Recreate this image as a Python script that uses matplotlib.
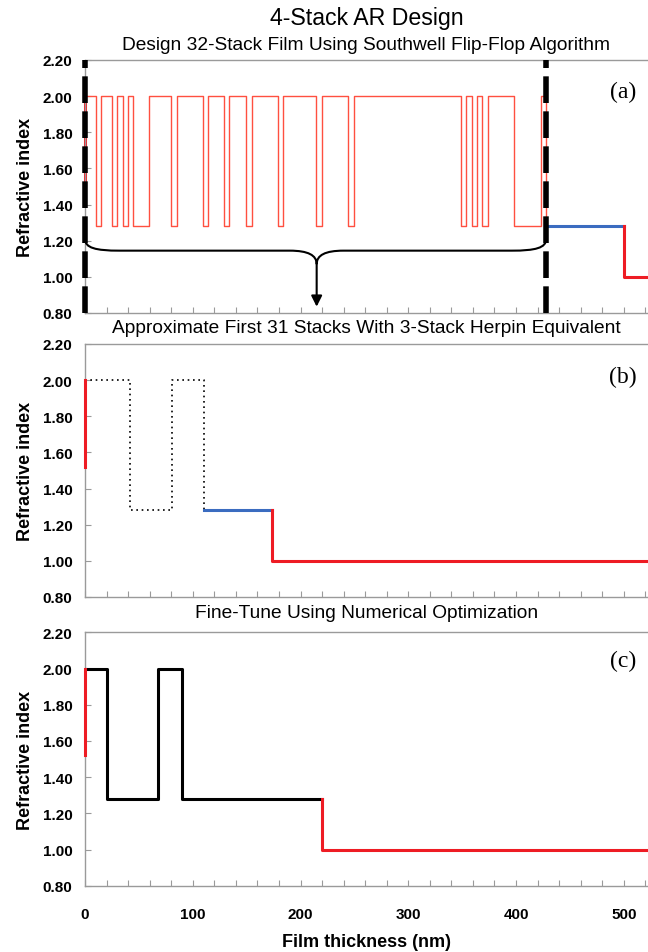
import matplotlib
matplotlib.use("Agg")
import matplotlib.pyplot as plt
from matplotlib.path import Path
from matplotlib.patches import PathPatch
from matplotlib.ticker import MultipleLocator, FormatStrFormatter

plt.rcParams['font.family'] = ['Liberation Sans', 'DejaVu Sans']

# ---------------- data ----------------
substrate_index = 1.52
air_index = 1.00
x_max = 522.5

# (a) 31 thin layers from the flip-flop design (boundaries in nm)
a_bounds = [0, 10.2, 14.8, 24.7, 30.0, 35.0, 39.6, 44.2, 59.4, 79.5, 85.1,
            109.8, 114.4, 129.3, 133.9, 149.1, 154.7, 179.4, 184.1, 214.4,
            219.7, 244.4, 249.4, 348.6, 353.6, 358.8, 363.5, 368.8, 374.3,
            398.4, 423.2, 428.0]
a_index = [2.00, 1.28, 2.00, 1.28, 2.00, 1.28, 2.00, 1.28, 2.00, 1.28,
           2.00, 1.28, 2.00, 1.28, 2.00, 1.28, 2.00, 1.28, 2.00, 1.28,
           2.00, 1.28, 2.00, 1.28, 2.00, 1.28, 2.00, 1.28, 2.00, 1.28,
           2.00]
# 32nd stack
a_last_start = 428.0
a_last_end = 500.0
a_last_index = 1.28

# (b) 3-stack Herpin equivalent + last stack
b_bounds = [0, 42, 81, 110]
b_index = [2.00, 1.28, 2.00]
b_last_start = 110
b_last_end = 174
b_last_index = 1.28

# (c) fine-tuned design
c_bounds = [0, 20, 68, 90, 220]
c_index = [2.00, 1.28, 2.00, 1.28]

# brace in (a)
brace_left = 0
brace_right = 428
brace_mid = 215

yticks = [0.80, 1.00, 1.20, 1.40, 1.60, 1.80, 2.00, 2.20]

RED = '#ee1c24'
THIN_RED = '#ff5040'
BLUE = '#3b6cc0'
SPINE = '#9a9a9a'

W, H = 648, 953
fig = plt.figure(figsize=(W / 100, H / 100), dpi=100)

left = 85 / W
width = 1 - left
def pos(top_px, bot_px):
    return [left, 1 - bot_px / H, width, (bot_px - top_px) / H]

ax_a = fig.add_axes(pos(61, 314))
ax_b = fig.add_axes(pos(345, 598))
ax_c = fig.add_axes(pos(633.3, 886.7))

for ax in (ax_a, ax_b, ax_c):
    ax.set_xlim(0, x_max)
    ax.set_ylim(0.80, 2.20)
    ax.set_yticks(yticks)
    ax.yaxis.set_major_formatter(FormatStrFormatter('%.2f'))
    ax.xaxis.set_major_locator(MultipleLocator(100))
    ax.xaxis.set_minor_locator(MultipleLocator(20))
    ax.tick_params(axis='y', direction='in', length=4, width=0.8, color=SPINE,
                   labelsize=11, pad=9)
    ax.tick_params(axis='x', which='both', direction='in', length=4, width=0.8,
                   color=SPINE, labelsize=11, pad=15)
    for lab in ax.get_yticklabels():
        lab.set_fontweight('bold')
    for s in ('left', 'bottom', 'top'):
        ax.spines[s].set_color(SPINE)
        ax.spines[s].set_linewidth(1.0)
    ax.spines['right'].set_visible(False)
    ax.set_ylabel('Refractive index', fontsize=13, fontweight='bold', labelpad=6)
    ax.patch.set_alpha(0)

ax_a.tick_params(axis='x', labelbottom=False)
ax_b.tick_params(axis='x', labelbottom=False)
for lab in ax_c.get_xticklabels():
    lab.set_fontweight('bold')
ax_c.set_xlabel('Film thickness (nm)', fontsize=13, fontweight='bold', labelpad=9)

# ---------------- panel (a) ----------------
ax_a.plot([0, 0], [substrate_index, a_index[0]], color=RED, lw=2.2, zorder=2,
          clip_on=False)
ax_a.step(a_bounds, a_index + [a_last_index], where='post', color=THIN_RED,
          lw=1.0, zorder=3)
ax_a.plot([a_last_start, a_last_end], [a_last_index, a_last_index], color=BLUE,
          lw=2.2, zorder=3)
ax_a.plot([a_last_end, a_last_end, x_max], [a_last_index, air_index, air_index],
          color=RED, lw=2.2, zorder=3, clip_on=False)
for xv in (brace_left, brace_right):
    ax_a.plot([xv, xv], [0.80, 2.20], color='black', lw=4.0,
              linestyle=(0, (4.8, 1.5)), zorder=5, clip_on=False)

yb0, yb1, ybc = 1.21, 1.145, 1.07
verts = [
    (brace_left, yb0), (brace_left, 1.16), (brace_left + 10, yb1), (brace_left + 32, yb1),
    (brace_mid - 25, yb1),
    (brace_mid - 8, yb1), (brace_mid, 1.12), (brace_mid, ybc),
    (brace_mid, 1.12), (brace_mid + 8, yb1), (brace_mid + 25, yb1),
    (brace_right - 32, yb1),
    (brace_right - 10, yb1), (brace_right, 1.16), (brace_right, yb0),
]
codes = [Path.MOVETO, Path.CURVE4, Path.CURVE4, Path.CURVE4,
         Path.LINETO,
         Path.CURVE4, Path.CURVE4, Path.CURVE4,
         Path.CURVE4, Path.CURVE4, Path.CURVE4,
         Path.LINETO,
         Path.CURVE4, Path.CURVE4, Path.CURVE4]
ax_a.add_patch(PathPatch(Path(verts, codes), facecolor='none', edgecolor='black',
                         lw=1.5, zorder=4))
ax_a.annotate('', xy=(brace_mid, 0.835), xytext=(brace_mid, ybc),
              arrowprops=dict(arrowstyle='-|>', lw=1.5, color='black',
                              mutation_scale=16, shrinkA=0, shrinkB=0), zorder=4)

# ---------------- panel (b) ----------------
ax_b.plot([0, 0], [substrate_index, b_index[0]], color=RED, lw=2.2, zorder=4,
          clip_on=False)
ax_b.step(b_bounds, b_index + [b_last_index], where='post', color='black',
          lw=1.2, linestyle=(0, (1, 2.2)), zorder=3)
ax_b.plot([b_last_start, b_last_end], [b_last_index, b_last_index], color=BLUE,
          lw=2.2, zorder=3)
ax_b.plot([b_last_end, b_last_end, x_max], [b_last_index, air_index, air_index],
          color=RED, lw=2.2, zorder=3, clip_on=False)

# ---------------- panel (c) ----------------
ax_c.step(c_bounds, c_index + [c_index[-1]], where='post', color='black',
          lw=2.2, zorder=3)
ax_c.plot([0, 0], [substrate_index, c_index[0]], color=RED, lw=2.2, zorder=4,
          clip_on=False)
ax_c.plot([c_bounds[-1], c_bounds[-1], x_max], [c_index[-1], air_index, air_index],
          color=RED, lw=2.2, zorder=3, clip_on=False)

# ---------------- texts ----------------
cx = (85 + W) / 2 / W
fig.text(cx, 1 - 19 / H, '4-Stack AR Design', ha='center', va='center', fontsize=16.7)
fig.text(cx, 1 - 45 / H, 'Design 32-Stack Film Using Southwell Flip-Flop Algorithm',
         ha='center', va='center', fontsize=13.8)
fig.text(cx, 1 - 329 / H, 'Approximate First 31 Stacks With 3-Stack Herpin Equivalent',
         ha='center', va='center', fontsize=13.8)
fig.text(cx, 1 - 614 / H, 'Fine-Tune Using Numerical Optimization',
         ha='center', va='center', fontsize=13.8)

for ax, lab, yfrac in ((ax_a, '(a)', 0.877), (ax_b, '(b)', 0.87), (ax_c, '(c)', 0.89)):
    ax.text(0.955, yfrac, lab, transform=ax.transAxes, ha='center', va='center',
            fontsize=17, family=['Liberation Serif', 'DejaVu Serif'])

fig.savefig('out.png', dpi=100)
